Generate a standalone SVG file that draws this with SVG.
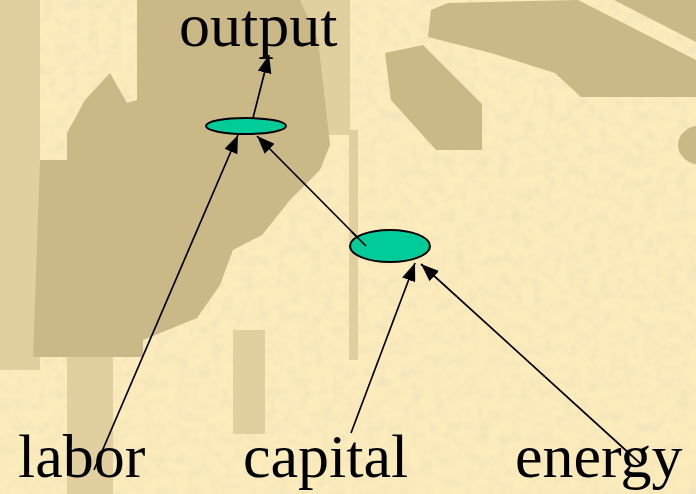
<svg xmlns="http://www.w3.org/2000/svg" width="696" height="494" viewBox="0 0 696 494">
  <defs>
    <marker id="arrow" viewBox="0 0 18 14" refX="18" refY="7" markerWidth="18" markerHeight="14" markerUnits="userSpaceOnUse" orient="auto">
      <path d="M0,0 L18,7 L0,14 z" fill="#000"/>
    </marker>
    <filter id="mottle" x="0" y="0" width="100%" height="100%">
      <feTurbulence type="fractalNoise" baseFrequency="0.09" numOctaves="2" seed="4"/>
      <feColorMatrix type="matrix" values="0 0 0 0 0.78  0 0 0 0 0.70  0 0 0 0 0.50  0 0 0 -2.2 1.25"/>
    </filter>
  </defs>
  <style>
    .dark { fill: #CBB887; }
    .mid { fill: #E2CF9F; }
    .node { fill: #00CC99; stroke: #000; stroke-width: 2; }
    .edge { stroke: #000; stroke-width: 1.7; fill: none; marker-end: url(#arrow); }
    .label { font-family: "Liberation Serif", "Times New Roman", serif; font-size: 62px; fill: #000; }
  </style>

  <!-- background scene -->
  <g id="background">
    <rect x="0" y="0" width="696" height="494" fill="#FCEBBB"/>
    <rect x="0" y="0" width="696" height="494" filter="url(#mottle)" opacity="0.4"/>
    <rect class="mid" x="0" y="0" width="40" height="370"/>
    <rect class="mid" x="300" y="0" width="50" height="135"/>
    <rect class="mid" x="67" y="357" width="46" height="137"/>
    <rect class="mid" x="233" y="330" width="32" height="104"/>
    <rect class="mid" x="349" y="130" width="9" height="230"/>
    <polygon class="dark" points="137,0 300,0 318,40 325,100 330,145 320,170 290,200 262,235 233,250 220,285 197,318 143,340 143,357 33,357 40,160 67,160 67,133 85,100 110,73 127,103 137,100"/>
    <polygon class="dark" points="385,53 423,45 482,104 482,150 436,150 391,100"/>
    <polygon class="dark" points="431,10 448,3 578,0 696,60 696,97 581,97 555,73 491,53 428,37"/>
    <polygon class="dark" points="614,0 696,0 696,42"/>
    <ellipse class="dark" cx="702" cy="145" rx="24" ry="20"/>
  </g>

  <!-- connectors -->
  <g id="connectors">
    <line class="edge" x1="253" y1="118" x2="269" y2="55"/>
    <line class="edge" x1="94" y1="470" x2="238" y2="135"/>
    <line class="edge" x1="366" y1="246" x2="257" y2="136"/>
    <line class="edge" x1="351" y1="433" x2="415" y2="263"/>
    <line class="edge" x1="642" y1="465" x2="421" y2="264"/>
  </g>

  <!-- nodes -->
  <g id="node-top">
    <ellipse class="node" cx="246" cy="126" rx="40" ry="8"/>
  </g>
  <g id="node-mid">
    <ellipse class="node" cx="390" cy="246" rx="40" ry="16"/>
  </g>
  <g id="edge-overlay">
    <line x1="366" y1="246" x2="352" y2="232" stroke="#000" stroke-width="1.7"/>
  </g>
  <g id="label-output"><text class="label" x="179" y="46">output</text></g>
  <g id="label-labor"><text class="label" x="18" y="477">labor</text></g>
  <g id="label-capital"><text class="label" x="243" y="477">capital</text></g>
  <g id="label-energy"><text class="label" x="515" y="477">energy</text></g>
</svg>
